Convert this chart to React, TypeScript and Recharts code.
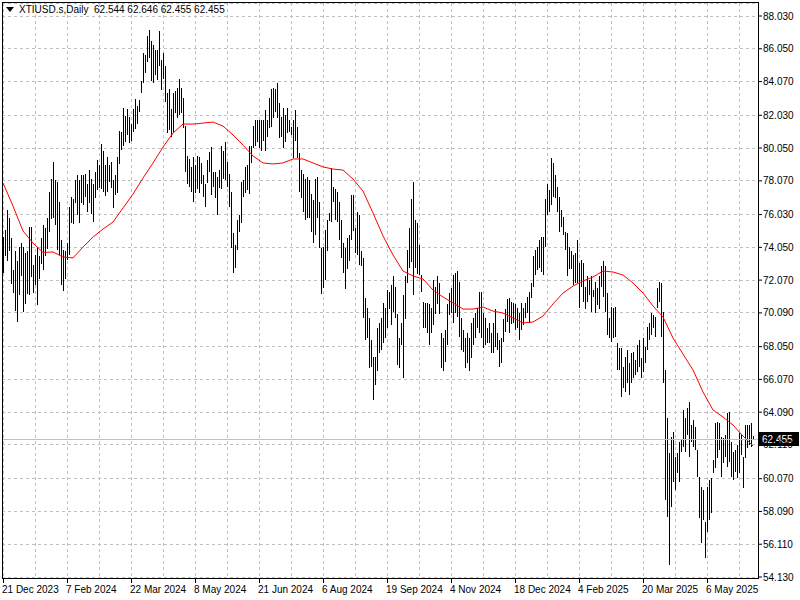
import React from "react";
import {
  ComposedChart,
  Bar,
  Line,
  XAxis,
  YAxis,
  CartesianGrid,
  ReferenceLine,
} from "recharts";

// daily highs / lows, one per bar (21 Dec 2023 .. mid May 2025)
const highs = [
  74.7, 75.1, 76.3, 75.8, 74.6, 72.7, 73.8, 73.2, 74.1, 74.3, 74.1, 73.7, 73.8, 75.3, 75.3, 73.0,
  73.6, 74.1, 73.5, 74.6, 75.4, 75.2, 75.8, 77.4, 78.2, 79.2, 78.1, 78.0, 76.8, 74.5, 73.9, 73.8,
  74.3, 76.5, 77.1, 77.0, 78.1, 78.4, 78.1, 78.4, 78.4, 78.5, 77.9, 78.7, 78.2, 77.9, 78.6, 79.3,
  79.0, 80.3, 79.9, 79.0, 79.5, 79.0, 79.2, 78.1, 78.4, 79.5, 81.1, 81.0, 82.5, 82.0, 82.4, 81.9,
  81.5, 82.4, 83.0, 82.6, 82.95, 84.1, 85.8, 85.7, 86.8, 87.2, 86.5, 86.3, 86.0, 86.0, 87.1, 85.4,
  85.8, 85.0, 83.4, 83.6, 82.4, 83.4, 83.5, 83.7, 84.2, 83.7, 83.1, 81.4, 79.6, 79.4, 78.9, 79.5,
  79.0, 79.6, 79.5, 79.15, 78.4, 77.9, 79.3, 79.8, 80.1, 78.6, 78.6, 78.3, 78.7, 80.2, 79.9, 80.4,
  79.2, 78.5, 77.4, 74.9, 74.2, 75.7, 76.0, 78.0, 78.1, 78.9, 79.0, 80.2, 80.2, 81.4, 81.75, 81.75,
  81.75, 81.75, 81.75, 82.35, 81.75, 83.1, 83.6, 83.7, 83.6, 84.0, 82.8, 81.9, 82.5, 82.05, 82.5, 81.75,
  81.3, 81.75, 82.35, 81.3, 79.75, 78.7, 78.5, 78.2, 78.3, 78.1, 77.3, 76.9, 78.2, 78.3, 76.8, 74.0,
  74.1, 75.1, 75.7, 76.1, 78.85, 77.7, 77.6, 77.4, 76.8, 75.7, 74.3, 74.0, 74.6, 74.8, 77.2, 77.2,
  75.2, 76.2, 76.0, 73.8, 73.4, 71.0, 70.4, 69.8, 68.45, 67.4, 67.4, 69.2, 69.5, 69.8, 70.7, 70.4,
  71.5, 71.35, 71.8, 72.3, 71.65, 70.0, 68.6, 69.5, 71.2, 72.3, 73.9, 75.2, 77.0, 78.0, 75.7, 75.5,
  74.2, 72.4, 70.75, 70.7, 70.7, 70.6, 70.4, 72.1, 71.65, 72.3, 71.9, 68.9, 68.6, 69.05, 70.6, 71.3,
  71.6, 72.4, 72.5, 72.6, 71.95, 69.8, 69.05, 68.6, 68.9, 68.6, 69.5, 69.8, 70.1, 70.4, 71.35, 71.35,
  70.1, 69.8, 69.2, 69.5, 68.9, 69.5, 70.3, 68.9, 68.45, 68.6, 69.7, 70.3, 70.9, 71.0, 70.75, 70.7,
  70.6, 70.4, 70.1, 70.7, 70.4, 70.7, 71.05, 71.35, 71.9, 73.5, 73.9, 74.1, 74.5, 74.7, 74.7, 77.0,
  77.9, 77.5, 79.45, 79.15, 78.4, 77.7, 77.1, 76.3, 75.9, 75.0, 74.9, 74.1, 73.8, 73.6, 73.7, 74.5,
  73.1, 73.3, 73.1, 71.65, 72.3, 72.1, 72.3, 71.5, 71.95, 71.6, 72.3, 72.9, 73.2, 72.9, 71.3, 69.8,
  70.44, 70.38, 70.44, 68.27, 67.97, 67.97, 66.82, 67.42, 67.85, 67.06, 67.67, 67.73, 67.24, 68.15, 68.45, 67.36,
  68.57, 68.03, 69.24, 69.48, 70.08, 69.96, 69.84, 71.59, 71.95, 71.89, 70.14, 66.64, 63.74, 61.62, 62.59, 62.89,
  61.38, 61.62, 62.29, 62.41, 64.22, 63.74, 64.34, 64.7, 63.32, 63.62, 63.19, 61.8, 60.17, 59.57, 59.39, 57.45,
  59.57, 59.99, 60.11, 61.2, 63.44, 63.5, 63.44, 62.59, 62.53, 62.71, 64.04, 64.1, 62.29, 61.68, 61.8, 62.11,
  62.83, 62.71, 61.38, 63.32, 63.32, 63.32, 63.44, 62.65,
];

const lows = [
  72.5, 73.5, 73.2, 73.8, 71.8, 71.3, 70.2, 69.5, 71.2, 72.3, 70.2, 70.6, 71.2, 71.2, 72.3, 71.3,
  71.8, 70.6, 72.1, 73.0, 72.7, 73.5, 73.9, 75.0, 75.8, 75.8, 75.4, 73.9, 73.6, 71.8, 71.4, 72.1,
  73.3, 73.6, 75.5, 75.5, 76.7, 76.0, 75.5, 76.7, 76.6, 77.1, 76.2, 76.7, 76.1, 75.6, 77.0, 77.5,
  77.6, 77.6, 77.4, 77.1, 77.4, 78.0, 77.6, 76.4, 77.2, 77.3, 79.1, 79.9, 80.2, 80.4, 80.8, 80.3,
  80.5, 81.0, 81.2, 81.5, 82.2, 83.4, 84.0, 84.6, 85.2, 85.5, 84.1, 84.0, 84.5, 84.2, 85.0, 83.6,
  84.2, 82.8, 81.0, 81.1, 80.7, 81.0, 82.2, 81.9, 82.05, 82.2, 81.3, 78.6, 77.9, 77.7, 77.4, 76.8,
  77.3, 77.6, 77.3, 77.9, 77.1, 76.5, 77.9, 78.6, 77.2, 77.7, 77.0, 76.0, 77.6, 77.6, 78.2, 78.1,
  77.7, 76.5, 74.0, 72.5, 72.8, 73.9, 75.0, 75.5, 77.1, 77.3, 77.5, 77.3, 79.15, 80.1, 80.2, 80.4,
  80.05, 79.9, 80.5, 79.9, 80.7, 81.3, 81.3, 81.9, 82.2, 81.9, 80.7, 80.7, 80.1, 80.4, 81.0, 81.0,
  80.8, 79.45, 80.5, 79.45, 77.4, 77.0, 76.2, 75.7, 75.8, 75.8, 75.0, 74.3, 74.8, 75.8, 74.0, 71.2,
  71.65, 72.1, 73.8, 75.6, 75.6, 76.8, 75.7, 75.6, 74.5, 73.4, 72.5, 71.5, 72.7, 73.2, 74.5, 75.0,
  73.7, 73.6, 73.0, 72.9, 69.8, 68.45, 68.6, 66.8, 66.8, 64.8, 65.7, 66.6, 67.7, 67.85, 68.3, 68.6,
  69.2, 70.3, 69.4, 70.1, 69.8, 66.9, 66.8, 68.15, 66.2, 69.7, 71.9, 72.8, 73.2, 71.2, 72.8, 72.4,
  72.4, 71.35, 69.2, 69.2, 68.9, 68.15, 68.9, 69.4, 70.0, 70.6, 70.0, 66.8, 66.6, 67.1, 68.15, 70.0,
  70.1, 69.5, 70.1, 69.8, 68.6, 67.85, 67.7, 66.8, 67.1, 66.6, 67.4, 68.15, 68.6, 69.2, 68.9, 68.6,
  68.0, 68.15, 68.3, 68.3, 67.7, 67.7, 68.0, 67.85, 66.8, 67.1, 68.3, 68.9, 69.5, 68.9, 69.4, 69.5,
  69.05, 69.2, 68.45, 69.05, 69.4, 69.8, 70.1, 69.5, 71.0, 71.6, 72.4, 72.7, 72.8, 72.6, 72.4, 74.1,
  76.0, 76.2, 76.6, 77.1, 77.0, 76.2, 75.0, 75.3, 74.8, 73.9, 72.3, 72.8, 72.7, 71.8, 71.9, 71.9,
  70.4, 71.65, 70.75, 70.3, 70.7, 71.2, 70.1, 71.05, 70.1, 70.6, 70.3, 71.65, 71.05, 70.1, 68.75, 68.6,
  68.33, 68.57, 68.63, 66.64, 66.64, 65.01, 65.55, 65.31, 65.85, 65.13, 65.85, 66.15, 66.33, 66.52, 66.82, 66.15,
  66.52, 67.06, 67.85, 68.45, 68.75, 69.18, 68.63, 70.38, 70.75, 68.63, 65.85, 58.78, 57.76, 54.85, 58.36, 59.87,
  59.39, 60.41, 59.87, 61.68, 61.98, 61.68, 62.71, 61.38, 62.29, 61.98, 61.8, 60.17, 57.7, 56.18, 57.57, 55.28,
  56.85, 57.57, 58.0, 60.41, 60.72, 61.32, 61.8, 60.17, 61.02, 61.38, 60.78, 61.08, 60.17, 59.99, 60.47, 60.11,
  60.41, 61.5, 59.51, 61.32, 61.92, 62.11, 61.98, 62.46,
];

// moving average, one value every 5 bars
const maValues = [
  77.94, 76.55, 75.04, 74.31, 73.74, 73.77, 73.47, 73.41, 74.07, 74.67,
  75.16, 75.58, 76.43, 77.27, 78.24, 79.15, 80.11, 80.96, 81.5, 81.5,
  81.56, 81.62, 81.38, 80.84, 80.23, 79.57, 79.15, 79.09, 79.15, 79.39,
  79.39, 79.15, 78.91, 78.78, 78.72, 78.18, 77.45, 76.13, 74.74, 73.59,
  72.62, 72.32, 72.14, 71.47, 71.05, 70.69, 70.32, 70.32, 70.44, 70.2,
  70.08, 69.78, 69.48, 69.54, 69.9, 70.63, 71.29, 71.71, 72.02, 72.26,
  72.62, 72.56, 72.38, 71.9, 71.29, 70.51, 69.84, 68.57, 67.6, 66.64,
  65.31, 64.22, 63.8, 63.31, 62.65, 62.05,
];

const dateLabels = [
  "21 Dec 2023", "7 Feb 2024", "22 Mar 2024", "8 May 2024", "21 Jun 2024", "6 Aug 2024",
  "19 Sep 2024", "4 Nov 2024", "18 Dec 2024", "4 Feb 2025", "20 Mar 2025", "6 May 2025",
];

const priceTicks = [
  88.03, 86.05, 84.07, 82.03, 80.05, 78.07, 76.03, 74.05, 72.07,
  70.09, 68.05, 66.07, 64.09, 62.11, 60.07, 58.09, 56.11, 54.13,
];

const lastPrice = 62.455;
const titleText = "XTIUSD.s,Daily  62.544 62.646 62.455 62.455";

const SLOTS = 378; // 376 bars plus a little empty shift on the right
const MA_STEP = 5;
const GRID_STEP = 16;
const LABEL_STEP = 32;
const FONT = "'Liberation Sans', Arial, sans-serif";

const data = Array.from({ length: SLOTS }, (_, i) => ({
  i,
  range: i < highs.length ? [lows[i], highs[i]] : null,
  ma: i % MA_STEP === 0 && i / MA_STEP < maValues.length ? maValues[i / MA_STEP] : null,
}));

const gridTicks = data.filter((d) => d.i % GRID_STEP === 0 && d.i < highs.length).map((d) => d.i);

const HLBar = (props: any) => {
  const { x, y, width, height } = props;
  if (x == null || y == null) return null;
  return (
    <rect
      x={Math.round(x + width / 2 - 0.5)}
      y={Math.round(y)}
      width={1}
      height={Math.max(1, Math.round(height))}
      fill="#000"
      shapeRendering="crispEdges"
    />
  );
};

const DateTick = (props: any) => {
  const { x, y, payload } = props;
  const idx = payload.value;
  if (idx % LABEL_STEP !== 0) return null;
  const label = dateLabels[idx / LABEL_STEP];
  if (!label) return null;
  const px = Math.round(x);
  return (
    <g>
      <line x1={px + 0.5} x2={px + 0.5} y1={y} y2={y + 5} stroke="#000" />
      <text x={px - 1} y={y + 15} textAnchor="start" fontSize={10} fontFamily={FONT} fill="#000">
        {label}
      </text>
    </g>
  );
};

const PriceTag = (props: any) => {
  const vb = props.viewBox || {};
  const x = vb.x + vb.width + 1;
  const y = Math.round(vb.y);
  return (
    <g>
      <rect x={x} y={y - 7} width={40} height={14} fill="#000" />
      <text x={x + 3} y={y + 4} fontSize={10} fontFamily={FONT} fill="#fff">
        {lastPrice.toFixed(3)}
      </text>
    </g>
  );
};

export default function App() {
  return (
    <div style={{ position: "absolute", left: 0, top: 0, width: 800, height: 600, background: "#fff" }}>
      <ComposedChart
        width={800}
        height={600}
        data={data}
        margin={{ top: 3, right: 0, left: 2, bottom: 0 }}
      >
        <CartesianGrid
          stroke="#c0c0c0"
          strokeDasharray="3 3"
          shapeRendering="crispEdges"
        />
        <XAxis
          dataKey="i"
          type="category"
          ticks={gridTicks}
          interval={0}
          height={22}
          axisLine={false}
          tickLine={false}
          tickSize={0}
          tickMargin={0}
          tick={<DateTick />}
        />
        <YAxis
          orientation="right"
          width={42}
          type="number"
          domain={[54.0696, 88.8156]}
          allowDataOverflow
          ticks={priceTicks}
          interval={0}
          axisLine={false}
          tickLine={{ stroke: "#000" }}
          tickSize={4}
          tickMargin={1}
          tickFormatter={(v: number) => v.toFixed(3)}
          tick={{ fill: "#000", fontSize: 10, fontFamily: FONT }}
        />
        <ReferenceLine
          y={lastPrice}
          stroke="#c0c0c0"
          shapeRendering="crispEdges"
          label={<PriceTag />}
        />
        <Bar dataKey="range" shape={<HLBar />} isAnimationActive={false} />
        <Line
          dataKey="ma"
          type="linear"
          stroke="#ff0000"
          strokeWidth={1}
          dot={false}
          connectNulls
          isAnimationActive={false}
        />
      </ComposedChart>
      <div
        style={{
          position: "absolute",
          left: 2,
          top: 2,
          width: 757,
          height: 577,
          border: "1px solid #000",
          boxSizing: "border-box",
          pointerEvents: "none",
        }}
      />
      <div
        style={{
          position: "absolute",
          left: 6,
          top: 4,
          fontFamily: FONT,
          fontSize: 10,
          color: "#000",
          whiteSpace: "pre",
          display: "flex",
          alignItems: "center",
        }}
      >
        <svg width={8} height={6} style={{ marginRight: 5 }}>
          <polygon points="0,0 8,0 4,5" fill="#000" />
        </svg>
        {titleText}
      </div>
    </div>
  );
}
